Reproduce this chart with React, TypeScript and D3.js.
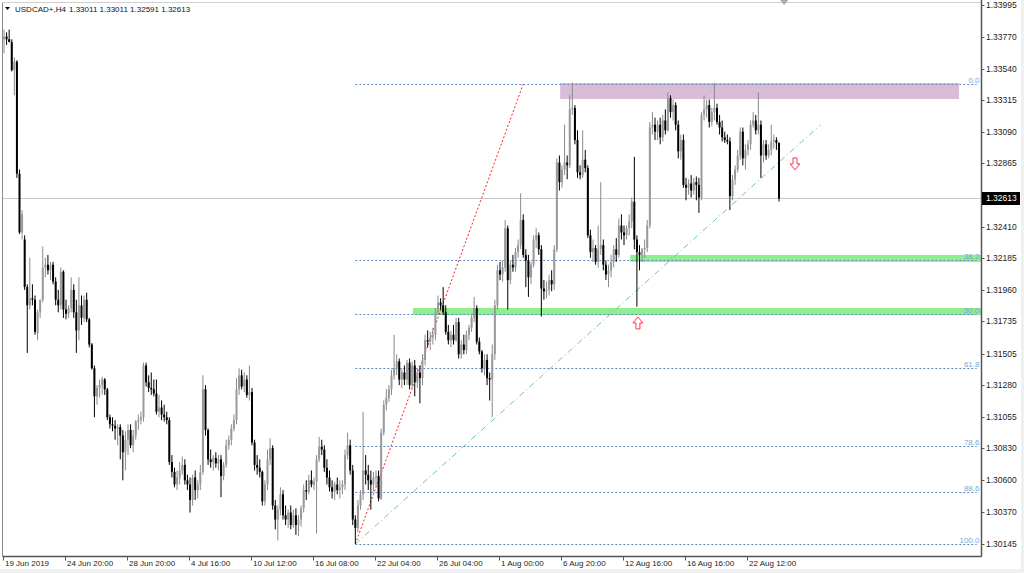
import React from 'react';
import * as d3 from 'd3';

// OHLC H4 candles, USDCAD
const candles: [number, number, number, number][] = [
[1.3375,1.3382,1.3365,1.3377],[1.3377,1.3380,1.3371,1.3375],[1.3375,1.3382,1.3373,1.3373],[1.3373,1.3375,1.3352,1.3353],
[1.3353,1.3362,1.3335,1.3359],[1.3359,1.3360,1.3276,1.3279],[1.3279,1.3282,1.3236,1.3237],[1.3237,1.3253,1.3232,1.3250],
[1.3232,1.3235,1.3196,1.3198],[1.3198,1.3200,1.3151,1.3185],[1.3185,1.3219,1.3182,1.3190],[1.3190,1.3200,1.3185,1.3189],
[1.3189,1.3192,1.3164,1.3166],[1.3165,1.3182,1.3160,1.3180],[1.3180,1.3189,1.3176,1.3189],[1.3189,1.3227,1.3187,1.3212],
[1.3212,1.3219,1.3205,1.3214],[1.3214,1.3221,1.3207,1.3210],[1.3210,1.3216,1.3203,1.3214],[1.3214,1.3216,1.3200,1.3202],
[1.3202,1.3205,1.3185,1.3189],[1.3189,1.3196,1.3180,1.3185],[1.3185,1.3212,1.3182,1.3209],[1.3209,1.3210,1.3176,1.3182],
[1.3182,1.3189,1.3175,1.3179],[1.3179,1.3185,1.3176,1.3183],[1.3183,1.3205,1.3180,1.3196],[1.3196,1.3200,1.3176,1.3180],
[1.3180,1.3189,1.3151,1.3167],[1.3167,1.3205,1.3160,1.3185],[1.3185,1.3192,1.3171,1.3176],[1.3176,1.3192,1.3173,1.3189],
[1.3189,1.3194,1.3173,1.3175],[1.3175,1.3176,1.3155,1.3157],[1.3157,1.3158,1.3139,1.3140],[1.3140,1.3142,1.3105,1.3120],
[1.3120,1.3128,1.3114,1.3126],[1.3126,1.3132,1.3119,1.3128],[1.3128,1.3134,1.3121,1.3132],[1.3132,1.3133,1.3121,1.3125],
[1.3125,1.3126,1.3103,1.3105],[1.3105,1.3107,1.3097,1.3100],[1.3100,1.3105,1.3095,1.3099],[1.3099,1.3103,1.3089,1.3097],
[1.3097,1.3100,1.3085,1.3098],[1.3098,1.3100,1.3075,1.3092],[1.3092,1.3096,1.3060,1.3080],[1.3080,1.3095,1.3067,1.3089],
[1.3089,1.3100,1.3078,1.3096],[1.3096,1.3100,1.3083,1.3085],[1.3085,1.3096,1.3080,1.3092],[1.3092,1.3103,1.3089,1.3102],
[1.3102,1.3107,1.3096,1.3103],[1.3103,1.3109,1.3100,1.3105],[1.3105,1.3144,1.3102,1.3142],[1.3142,1.3144,1.3127,1.3130],
[1.3130,1.3135,1.3123,1.3126],[1.3126,1.3137,1.3121,1.3125],[1.3125,1.3132,1.3120,1.3122],[1.3122,1.3132,1.3107,1.3109],
[1.3109,1.3121,1.3105,1.3112],[1.3112,1.3117,1.3103,1.3107],[1.3107,1.3114,1.3102,1.3105],[1.3105,1.3109,1.3100,1.3103],
[1.3103,1.3105,1.3071,1.3073],[1.3073,1.3078,1.3062,1.3066],[1.3066,1.3069,1.3055,1.3057],[1.3057,1.3067,1.3053,1.3062],
[1.3062,1.3073,1.3057,1.3067],[1.3067,1.3077,1.3064,1.3071],[1.3071,1.3075,1.3057,1.3060],[1.3060,1.3064,1.3053,1.3057],
[1.3057,1.3062,1.3037,1.3046],[1.3046,1.3064,1.3042,1.3062],[1.3062,1.3067,1.3046,1.3053],[1.3053,1.3060,1.3047,1.3057],
[1.3057,1.3071,1.3053,1.3066],[1.3066,1.3135,1.3064,1.3125],[1.3125,1.3128,1.3092,1.3096],[1.3096,1.3097,1.3071,1.3075],
[1.3075,1.3082,1.3069,1.3073],[1.3073,1.3078,1.3067,1.3076],[1.3076,1.3080,1.3069,1.3072],[1.3072,1.3078,1.3067,1.3075],
[1.3075,1.3078,1.3048,1.3063],[1.3063,1.3073,1.3060,1.3071],[1.3071,1.3089,1.3069,1.3085],[1.3085,1.3092,1.3082,1.3089],
[1.3089,1.3100,1.3085,1.3097],[1.3097,1.3107,1.3095,1.3103],[1.3103,1.3133,1.3100,1.3125],[1.3125,1.3140,1.3121,1.3135],
[1.3135,1.3139,1.3125,1.3127],[1.3127,1.3137,1.3123,1.3132],[1.3132,1.3135,1.3119,1.3121],[1.3121,1.3142,1.3117,1.3123],
[1.3123,1.3126,1.3085,1.3087],[1.3087,1.3089,1.3067,1.3071],[1.3071,1.3078,1.3064,1.3069],[1.3069,1.3075,1.3062,1.3066],
[1.3066,1.3067,1.3042,1.3045],[1.3045,1.3060,1.3042,1.3057],[1.3057,1.3082,1.3053,1.3075],[1.3075,1.3090,1.3071,1.3083],
[1.3083,1.3085,1.3039,1.3042],[1.3042,1.3046,1.3025,1.3032],[1.3032,1.3042,1.3017,1.3039],[1.3039,1.3055,1.3035,1.3050],
[1.3050,1.3053,1.3032,1.3035],[1.3035,1.3042,1.3028,1.3032],[1.3032,1.3039,1.3026,1.3037],[1.3037,1.3042,1.3025,1.3028],
[1.3028,1.3039,1.3026,1.3035],[1.3035,1.3040,1.3021,1.3028],[1.3028,1.3035,1.3020,1.3032],[1.3032,1.3042,1.3027,1.3040],
[1.3040,1.3057,1.3037,1.3053],[1.3053,1.3060,1.3046,1.3052],[1.3052,1.3064,1.3050,1.3060],[1.3060,1.3067,1.3055,1.3057],
[1.3057,1.3062,1.3053,1.3059],[1.3059,1.3078,1.3022,1.3075],[1.3075,1.3091,1.3073,1.3084],[1.3084,1.3089,1.3078,1.3082],
[1.3082,1.3085,1.3066,1.3069],[1.3069,1.3075,1.3057,1.3062],[1.3062,1.3067,1.3052,1.3055],[1.3055,1.3060,1.3047,1.3052],
[1.3052,1.3059,1.3046,1.3057],[1.3057,1.3062,1.3050,1.3053],[1.3053,1.3060,1.3047,1.3055],[1.3055,1.3060,1.3050,1.3057],
[1.3057,1.3082,1.3053,1.3078],[1.3078,1.3094,1.3075,1.3085],[1.3085,1.3089,1.3064,1.3067],[1.3067,1.3071,1.3028,1.3032],
[1.3032,1.3035,1.30145,1.3026],[1.3026,1.3046,1.3023,1.3042],[1.3042,1.3053,1.3039,1.3050],[1.3050,1.3109,1.3046,1.3067],
[1.3067,1.3078,1.3057,1.3064],[1.3064,1.3071,1.3053,1.3060],[1.3060,1.3067,1.3039,1.3057],[1.3057,1.3066,1.3052,1.3062],
[1.3062,1.3067,1.3055,1.3063],[1.3063,1.3067,1.3045,1.3047],[1.3047,1.3097,1.3046,1.3094],[1.3094,1.3117,1.3092,1.3114],
[1.3114,1.3125,1.3110,1.3119],[1.3119,1.3128,1.3116,1.3125],[1.3125,1.3139,1.3121,1.3135],[1.3135,1.3164,1.3132,1.3140],
[1.3140,1.3150,1.3135,1.3145],[1.3145,1.3147,1.3128,1.3132],[1.3132,1.3140,1.3126,1.3137],[1.3137,1.3142,1.3128,1.3132],
[1.3132,1.3146,1.3128,1.3144],[1.3144,1.3147,1.3125,1.3128],[1.3128,1.3145,1.3126,1.3142],[1.3142,1.3146,1.3120,1.3130],
[1.3130,1.3140,1.3126,1.3137],[1.3137,1.3142,1.3115,1.3133],[1.3133,1.3150,1.3128,1.3146],[1.3146,1.3164,1.3142,1.3160],
[1.3160,1.3167,1.3155,1.3159],[1.3159,1.3166,1.3153,1.3162],[1.3162,1.3169,1.3157,1.3164],[1.3164,1.3183,1.3160,1.3180],
[1.3180,1.3192,1.3178,1.3187],[1.3187,1.3190,1.3182,1.3185],[1.3185,1.3198,1.3178,1.3180],[1.3180,1.3185,1.3164,1.3166],
[1.3166,1.3171,1.3157,1.3160],[1.3160,1.3167,1.3155,1.3164],[1.3164,1.3171,1.3157,1.3160],[1.3160,1.3176,1.3159,1.3173],
[1.3173,1.3176,1.3147,1.3150],[1.3150,1.3160,1.3147,1.3157],[1.3157,1.3164,1.3150,1.3153],[1.3153,1.3167,1.3150,1.3164],
[1.3164,1.3171,1.3160,1.3169],[1.3169,1.3178,1.3166,1.3176],[1.3176,1.3191,1.3173,1.3183],[1.3183,1.3185,1.3157,1.3159],
[1.3159,1.3162,1.3150,1.3152],[1.3152,1.3153,1.3137,1.3140],[1.3140,1.3150,1.3135,1.3146],[1.3146,1.3150,1.3128,1.3133],
[1.3133,1.3137,1.3117,1.3132],[1.3132,1.3157,1.3105,1.3150],[1.3150,1.3189,1.3146,1.3185],[1.3185,1.3214,1.3182,1.3210],
[1.3210,1.3216,1.3203,1.3207],[1.3207,1.3217,1.3202,1.3212],[1.3212,1.3246,1.3209,1.3240],[1.3240,1.3242,1.3182,1.3203],
[1.3203,1.3217,1.3200,1.3214],[1.3214,1.3221,1.3209,1.3212],[1.3212,1.3226,1.3209,1.3223],[1.3223,1.3232,1.3219,1.3228],
[1.3228,1.3265,1.3225,1.3246],[1.3246,1.3250,1.3219,1.3221],[1.3221,1.3225,1.3198,1.3217],[1.3217,1.3221,1.3191,1.3205],
[1.3205,1.3216,1.3200,1.3214],[1.3214,1.3235,1.3212,1.3232],[1.3232,1.3240,1.3226,1.3235],[1.3235,1.3237,1.3221,1.3225],
[1.3225,1.3228,1.3177,1.3197],[1.3197,1.3203,1.3189,1.3195],[1.3195,1.3202,1.3190,1.3196],[1.3196,1.3207,1.3192,1.3203],
[1.3203,1.3210,1.3195,1.3200],[1.3200,1.3228,1.3196,1.3225],[1.3225,1.3290,1.3223,1.3287],[1.3287,1.3292,1.3267,1.3273],
[1.3273,1.3285,1.3269,1.3282],[1.3282,1.3314,1.3278,1.3287],[1.3287,1.3292,1.3275,1.3285],[1.3285,1.3335,1.3283,1.3325],
[1.3325,1.3344,1.3321,1.3326],[1.3326,1.3328,1.3300,1.3303],[1.3303,1.3310,1.3276,1.3280],[1.3280,1.3285,1.3275,1.3278],
[1.3278,1.3310,1.3276,1.3289],[1.3289,1.3296,1.3280,1.3283],[1.3283,1.3285,1.3233,1.3235],[1.3235,1.3239,1.3219,1.3223],
[1.3223,1.3232,1.3216,1.3226],[1.3226,1.3228,1.3214,1.3216],[1.3216,1.3242,1.3212,1.3225],[1.3225,1.3273,1.3221,1.3228],
[1.3228,1.3232,1.3210,1.3214],[1.3214,1.3217,1.3203,1.3207],[1.3207,1.3214,1.3198,1.3210],[1.3210,1.3221,1.3205,1.3216],
[1.3216,1.3228,1.3212,1.3225],[1.3225,1.3233,1.3216,1.3221],[1.3221,1.3247,1.3219,1.3242],[1.3242,1.3250,1.3232,1.3237],
[1.3237,1.3242,1.3228,1.3235],[1.3235,1.3242,1.3232,1.3240],[1.3240,1.3250,1.3235,1.3245],[1.3245,1.3262,1.3240,1.3259],
[1.3259,1.3291,1.3225,1.3232],[1.3232,1.3235,1.3184,1.3223],[1.3223,1.3228,1.3210,1.3221],[1.3221,1.3226,1.3216,1.3225],
[1.3225,1.3232,1.3219,1.3226],[1.3226,1.3246,1.3223,1.3242],[1.3242,1.3316,1.3240,1.3312],[1.3312,1.3323,1.3307,1.3314],
[1.3314,1.3319,1.3303,1.3309],[1.3309,1.3317,1.3303,1.3314],[1.3314,1.3319,1.3300,1.3305],[1.3305,1.3321,1.3302,1.3317],
[1.3317,1.3325,1.3307,1.3310],[1.3310,1.3337,1.3309,1.3333],[1.3333,1.3335,1.3319,1.3323],[1.3323,1.3332,1.3317,1.3328],
[1.3328,1.3330,1.3310,1.3314],[1.3314,1.3317,1.3290,1.3295],[1.3295,1.3307,1.3289,1.3303],[1.3303,1.3307,1.3269,1.3271],
[1.3271,1.3276,1.3260,1.3269],[1.3269,1.3275,1.3264,1.3272],[1.3272,1.3278,1.3262,1.3267],[1.3267,1.3276,1.3264,1.3273],
[1.3273,1.3277,1.3260,1.3271],[1.3271,1.3276,1.3251,1.3262],[1.3262,1.3323,1.3260,1.3321],[1.3321,1.3335,1.3317,1.3325],
[1.3325,1.3332,1.3319,1.3328],[1.3328,1.3332,1.3312,1.3316],[1.3316,1.3326,1.3313,1.3323],[1.3323,1.3344,1.3317,1.3326],
[1.3326,1.3329,1.3314,1.3316],[1.3316,1.3321,1.3307,1.3312],[1.3312,1.3317,1.3302,1.3305],[1.3305,1.3309,1.3301,1.3303],
[1.3303,1.3307,1.3300,1.3302],[1.3302,1.3305,1.3253,1.3263],[1.3263,1.3278,1.3260,1.3275],[1.3275,1.3285,1.3271,1.3282],
[1.3282,1.3296,1.3280,1.3292],[1.3292,1.3312,1.3289,1.3309],[1.3309,1.3312,1.3285,1.3290],[1.3290,1.3300,1.3282,1.3296],
[1.3296,1.3303,1.3292,1.3300],[1.3300,1.3317,1.3296,1.3314],[1.3314,1.3323,1.3312,1.3317],[1.3317,1.3321,1.3307,1.3310],
[1.3310,1.3337,1.3307,1.3314],[1.3314,1.3317,1.3276,1.3292],[1.3292,1.3303,1.3287,1.3300],[1.3300,1.3303,1.3289,1.3292],
[1.3292,1.3300,1.3290,1.3296],[1.3296,1.3314,1.3292,1.3302],[1.3302,1.3307,1.3297,1.3303],[1.3303,1.3305,1.3296,1.3301],
[1.33011,1.33011,1.32591,1.32613],
];

// visible price-scale labels (the 1.32640 one is hidden under the last-price box)
const priceTicks = [1.33995,1.33770,1.33540,1.33315,1.33090,1.32865,1.32410,1.32185,1.31960,1.31735,1.31505,1.31280,1.31055,1.30830,1.30600,1.30370,1.30145];
const dateTickBars = [0,24,48,72,96,120,144,168,192,216,240,264,288];
const dateTickLabels = ['19 Jun 2019','24 Jun 20:00','28 Jun 20:00','4 Jul 16:00','10 Jul 12:00','16 Jul 08:00','22 Jul 04:00','26 Jul 04:00','1 Aug 00:00','6 Aug 20:00','12 Aug 16:00','16 Aug 16:00','22 Aug 12:00'];

const symbolLabel = 'USDCAD+,H4';
const lastQuote = ['1.33011','1.33011','1.32591','1.32613'];
const lastPrice = 1.32613;

// Fibonacci retracement
const fibLevels = [0, 38.2, 50, 61.8, 78.6, 88.6, 100];
const fibLabels = ['0.0','38.2','50.0','61.8','78.6','88.6','100.0'];
const fibHigh = 1.33431;
const fibLow = 1.30145;
const fibLowBar = 136;
const fibHighBar = 201;
const fibEndBar = 376.5;

// trendline
const trendStart: [number, number] = [136, 1.30145];
const trendEnd: [number, number] = [316, 1.33138];

// zones [fromBar, toBar, priceLow, priceHigh]
const resistanceZone: [number, number, number, number] = [215.3, 369.7, 1.33323, 1.33438];
const supportZones: [number, number, number, number][] = [
  [242.4, 378.5, 1.32160, 1.32210],
  [158.3, 378.5, 1.31781, 1.31831],
];

// arrows [bar, price, direction]
const arrows: [number, number, 'up' | 'down'][] = [
  [306.2, 1.32860, 'down'],
  [245.4, 1.31724, 'up'],
];

const W = 1024, H = 573;
const PL = 2.5, PR = 981.5, PT = 2.5, PB = 556.5;
const FONT = "'Liberation Sans', Arial, sans-serif";

export default function App() {
  const x = d3.scaleLinear().domain([0, 24]).range([4, 66]);
  const y = d3.scaleLinear().domain([1.30145, 1.33995]).range([544, 5]);

  const bw = 2;
  const candleEls = candles.map(([o, h, l, c], i) => {
    const cx = x(i);
    const bull = c >= o;
    const top = y(Math.max(o, c));
    const bot = y(Math.min(o, c));
    const col = bull ? '#999' : '#000';
    const wick = bull ? '#8a8a8a' : '#000';
    return (
      <g key={i}>
        <line x1={cx} x2={cx} y1={y(h)} y2={y(l)} stroke={wick} strokeWidth={1} />
        <rect x={cx - bw / 2} y={top} width={bw} height={Math.max(1, bot - top)} fill={col} />
      </g>
    );
  });

  const fibX1 = x(fibLowBar);
  const fibX2 = x(fibEndBar);
  const fibEls = fibLevels.map((lv, k) => {
    const p = fibHigh - (fibHigh - fibLow) * lv / 100;
    const yy = Math.round(y(p)) + 0.5;
    return (
      <g key={k}>
        <line x1={fibX1} x2={fibX2} y1={yy} y2={yy} stroke="#5f8ac0" strokeWidth={1} strokeDasharray="2 2" />
        <text x={PR - 2} y={yy - 1.5} textAnchor="end" fontSize={8} fill="#7aa6d8" fontFamily={FONT}>{fibLabels[k]}</text>
      </g>
    );
  });

  const arrowPath = (cx: number, cy: number, dir: 'up' | 'down') => {
    const s = dir === 'down' ? 1 : -1;
    const pts: [number, number][] = [
      [cx - 2, cy - 6 * s], [cx + 2, cy - 6 * s], [cx + 2, cy], [cx + 5, cy],
      [cx, cy + 6 * s], [cx - 5, cy], [cx - 2, cy],
    ];
    return d3.line()(pts) + 'Z';
  };

  const lastY = Math.round(y(lastPrice)) + 0.5;

  return (
    <div style={{ position: 'absolute', left: 0, top: 0, width: W, height: H }}>
      <svg width={W} height={H} style={{ display: 'block' }} fontFamily={FONT}>
        <rect x={0} y={0} width={W} height={H} fill="#f0f0f0" />
        <rect x={0} y={0} width={1021} height={569} fill="#fff" />
        {/* zones */}
        <rect x={x(resistanceZone[0])} width={x(resistanceZone[1]) - x(resistanceZone[0])}
          y={y(resistanceZone[3])} height={y(resistanceZone[2]) - y(resistanceZone[3])} fill="#d8bcd8" />
        {supportZones.map((z, k) => (
          <rect key={k} x={x(z[0])} width={Math.min(PR, x(z[1])) - x(z[0])}
            y={y(z[3])} height={y(z[2]) - y(z[3])} fill="#90ee90" />
        ))}
        {/* current price line */}
        <line x1={PL} x2={PR} y1={lastY} y2={lastY} stroke="#c8c8c8" strokeWidth={1} />
        {/* fib */}
        {fibEls}
        <line x1={x(fibLowBar)} y1={y(fibLow)} x2={x(fibHighBar)} y2={y(fibHigh)} stroke="#ff2020" strokeWidth={1} strokeDasharray="2 2" />
        {/* trendline */}
        <line x1={x(trendStart[0])} y1={y(trendStart[1])} x2={x(trendEnd[0])} y2={y(trendEnd[1])}
          stroke="#70c89a" strokeWidth={1} strokeDasharray="6 3 1 3" />
        {/* candles */}
        {candleEls}
        {/* arrows */}
        {arrows.map(([b, p, d], k) => (
          <path key={k} d={arrowPath(x(b), y(p), d)} fill="#fff" stroke="#ff3355" strokeWidth={1} />
        ))}
        {/* frame */}
        <line x1={PL} x2={PL} y1={PT} y2={PB} stroke="#8a8a8a" />
        <line x1={PL} x2={PR} y1={PT} y2={PT} stroke="#d0d0d0" />
        <line x1={PR} x2={PR} y1={0} y2={PB} stroke="#555" strokeWidth={1.5} />
        <line x1={PL} x2={PR} y1={PB} y2={PB} stroke="#555" strokeWidth={1.5} />
        {/* shift marker */}
        <path d={`M${x(302) - 4},0 L${x(302) + 4},0 L${x(302)},5 Z`} fill="#aaa" />
        {/* price axis */}
        {priceTicks.map((p, k) => {
          const yy = Math.round(y(p)) + 0.5;
          return (
            <g key={k}>
              <line x1={PR} x2={PR + 3} y1={yy} y2={yy} stroke="#555" />
              <text x={986} y={yy} dy="0.35em" fontSize={8.5} fill="#222">{p.toFixed(5)}</text>
            </g>
          );
        })}
        <rect x={982} y={lastY - 6.5} width={38} height={13} fill="#000" />
        <text x={986} y={lastY} dy="0.35em" fontSize={8.5} fill="#fff">{lastPrice.toFixed(5)}</text>
        {/* time axis */}
        {dateTickBars.map((b, k) => {
          const xx = Math.round(x(b)) - 0.5;
          return (
            <g key={k}>
              <line x1={xx} x2={xx} y1={PB} y2={PB + 4} stroke="#555" />
              <text x={xx + 1.5} y={566} fontSize={8} fill="#222">{dateTickLabels[k]}</text>
            </g>
          );
        })}
        {/* header */}
        <path d="M5,7 L10,7 L7.5,10 Z" fill="#000" />
        <text x={15} y={12} fontSize={8} fill="#111">{symbolLabel}</text>
        <text x={69} y={12} fontSize={8} fill="#111">{lastQuote.join(' ')}</text>
      </svg>
    </div>
  );
}
